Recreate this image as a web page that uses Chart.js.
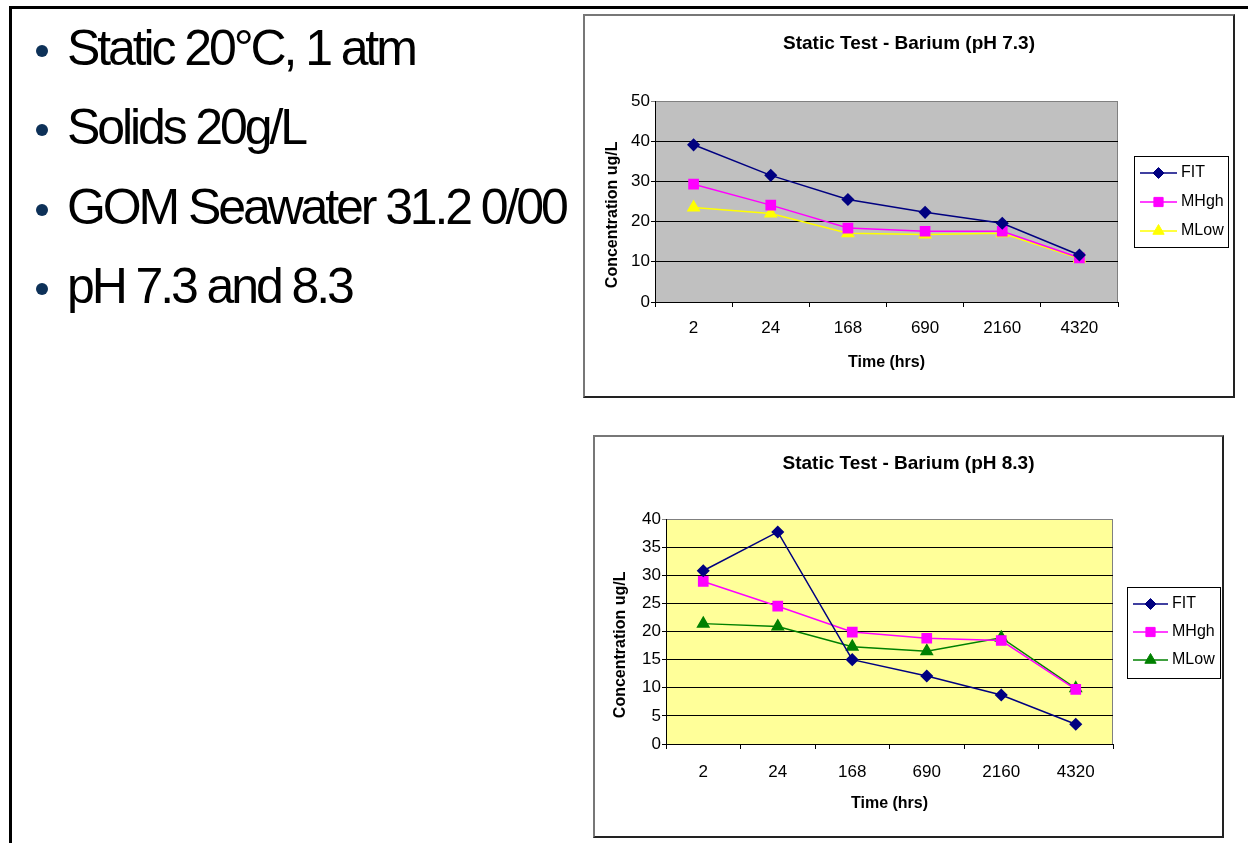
<!DOCTYPE html>
<html>
<head>
<meta charset="utf-8">
<title>Static Test - Barium</title>
<script src="https://cdn.jsdelivr.net/npm/chart.js@4.4.0/dist/chart.umd.min.js"></script>
<style>
  html, body { margin: 0; padding: 0; background: #fff; }
  body { width: 1248px; height: 843px; position: relative; overflow: hidden; font-family: "Liberation Sans", Arial, sans-serif; }
  #frame { position: absolute; left: 9px; top: 6px; width: 1260px; height: 860px; border-top: 3px solid #000; border-left: 3px solid #000; }
  .bullet { position: absolute; left: 67px; font-size: 50px; line-height: 50px; letter-spacing: -3.1px; color: #000; white-space: nowrap; }
  .bullet .dot { position: absolute; left: -31px; top: 22px; width: 12px; height: 12px; border-radius: 50%; background: #0d3158; }
  .box { position: absolute; border: 2px solid; border-color: #777 #222 #222 #777; }
  .box canvas { display: block; }
  #box1 { left: 583px; top: 14px; }
  #box2 { left: 593px; top: 435px; }
</style>
</head>
<body>
<div id="frame"></div>
<div class="bullet" style="top:23px"><span class="dot"></span>Static 20°C, 1 atm</div>
<div class="bullet" style="top:102px"><span class="dot"></span>Solids 20g/L</div>
<div class="bullet" style="top:182px"><span class="dot"></span>GOM Seawater 31.2 0/00</div>
<div class="bullet" style="top:261px"><span class="dot"></span>pH 7.3 and 8.3</div>

<div class="box" id="box1"><canvas id="chart1" width="648" height="380"></canvas></div>
<div class="box" id="box2"><canvas id="chart2" width="627" height="399"></canvas></div>

<script>
// sampling times (hrs) on the category axis
const hours = ["2", "24", "168", "690", "2160", "4320"];

// pH 7.3 - barium concentration ug/L
const fitPh73 = [39.1, 31.5, 25.5, 22.3, 19.6, 11.7];
const mHighPh73 = [29.3, 24.1, 18.4, 17.6, 17.6, 11.0];
const mLowPh73 = [23.5, 22.0, 17.1, 16.8, 17.1, 10.8];

// pH 8.3 - barium concentration ug/L
const fitPh83 = [30.8, 37.7, 15.0, 12.1, 8.7, 3.5];
const mHighPh83 = [28.9, 24.5, 19.9, 18.8, 18.4, 9.7];
const mLowPh83 = [21.4, 20.9, 17.3, 16.5, 18.9, 9.9];

Chart.defaults.font.family = '"Liberation Sans", Arial, sans-serif';
Chart.defaults.color = "#000";

// grey / yellow plot area like the excel chart
const plotBackground = {
  id: "plotBackground",
  beforeDraw(chart, args, opts) {
    const { ctx, chartArea: a } = chart;
    ctx.save();
    ctx.fillStyle = opts.color;
    ctx.fillRect(a.left, a.top, a.right - a.left, a.bottom - a.top);
    ctx.strokeStyle = "#808080";
    ctx.lineWidth = 1;
    ctx.beginPath();
    ctx.moveTo(a.left, a.top + 0.5);
    ctx.lineTo(a.right - 0.5, a.top + 0.5);
    ctx.lineTo(a.right - 0.5, a.bottom);
    ctx.stroke();
    ctx.restore();
  },
};

// legend with a frame, line + marker per series
const boxLegend = {
  id: "boxLegend",
  afterDraw(chart, args, opts) {
    const ctx = chart.ctx;
    ctx.save();
    ctx.strokeStyle = "#000";
    ctx.lineWidth = 1;
    ctx.strokeRect(opts.left + 0.5, opts.top + 0.5, opts.width, opts.height);
    ctx.font = '16px "Liberation Sans", Arial, sans-serif';
    ctx.textBaseline = "middle";
    chart.data.datasets.forEach((ds, i) => {
      const y = opts.top + opts.firstRow + i * opts.rowGap;
      const x0 = opts.left + 6;
      const x1 = x0 + opts.lineLength;
      ctx.strokeStyle = ds.borderColor;
      ctx.lineWidth = ds.borderWidth;
      ctx.beginPath();
      ctx.moveTo(x0, y);
      ctx.lineTo(x1, y);
      ctx.stroke();
      ctx.fillStyle = ds.pointBackgroundColor;
      ctx.strokeStyle = ds.pointBorderColor;
      ctx.lineWidth = 1;
      Chart.helpers.drawPoint(
        ctx,
        { pointStyle: ds.pointStyle, radius: ds.pointRadius, rotation: 0, borderWidth: 1 },
        (x0 + x1) / 2,
        y
      );
      ctx.fillStyle = "#000";
      ctx.fillText(ds.label, x1 + 4, y);
    });
    ctx.restore();
  },
};

function series(label, data, color, style, radius) {
  return {
    label: label,
    data: data,
    borderColor: color,
    backgroundColor: color,
    pointBackgroundColor: color,
    pointBorderColor: color,
    pointStyle: style,
    pointRadius: radius,
    borderWidth: 1.5,
    tension: 0,
    fill: false,
  };
}

function chartOptions(s) {
  return {
    responsive: false,
    animation: false,
    layout: { padding: 0 },
    plugins: {
      legend: { display: false },
      tooltip: { enabled: false },
      title: {
        display: true,
        text: s.title,
        color: "#000",
        font: { size: 19, weight: "bold" },
        padding: { top: s.titleTop, bottom: s.titleBottom },
      },
      plotBackground: { color: s.background },
      boxLegend: s.legend,
    },
    scales: {
      x: {
        offset: true,
        grid: { offset: true, drawOnChartArea: false, drawTicks: true, tickLength: 5, color: "#000" },
        border: { color: "#000", width: 1 },
        ticks: { color: "#000", font: { size: 17 }, padding: s.xTickPad, maxRotation: 0, autoSkip: false },
        title: {
          display: true,
          text: "Time (hrs)",
          color: "#000",
          font: { size: 16, weight: "bold" },
          padding: { top: 0, bottom: s.xTitleBottom },
        },
        afterFit(scale) {
          scale.height = s.xHeight;
        },
      },
      y: {
        min: 0,
        max: s.yMax,
        ticks: { stepSize: s.yStep, color: "#000", font: { size: 17 }, padding: 1 },
        grid: {
          color: (c) => (c.tick && c.tick.value === s.yMax ? "#808080" : "#000"),
          tickLength: 4,
        },
        border: { color: "#000", width: 1 },
        title: {
          display: true,
          // trailing spaces push the rotated title down like in the excel chart
          text: "Concentration ug/L      ",
          color: "#000",
          font: { size: 16, weight: "bold" },
          padding: { top: s.yTitleTop, bottom: 0 },
        },
        afterFit(scale) {
          scale.width = s.yWidth;
        },
      },
      // empty axis on the right only keeps room for the framed legend
      legendRoom: {
        type: "linear",
        position: "right",
        display: true,
        grid: { display: false },
        border: { display: false },
        ticks: { display: false },
        afterFit(scale) {
          scale.width = s.legendRoom;
        },
      },
    },
  };
}

// Static test pH 7.3
new Chart(document.getElementById("chart1").getContext("2d"), {
  type: "line",
  data: {
    labels: hours,
    datasets: [
      series("FIT", fitPh73, "#000080", "rectRot", 5.5),
      series("MHgh", mHighPh73, "#ff00ff", "rect", 6.5),
      series("MLow", mLowPh73, "#ffff00", "triangle", 6.5),
    ],
  },
  options: chartOptions({
    title: "Static Test - Barium (pH 7.3)",
    background: "#c0c0c0",
    yMax: 50,
    yStep: 10,
    legendRoom: 115,
    titleTop: 16.2,
    titleBottom: 46,
    xHeight: 94,
    xTickPad: 11.5,
    xTitleBottom: 23.4,
    yWidth: 70,
    yTitleTop: 18.4,
    legend: { left: 549, top: 140, width: 94, height: 91, firstRow: 17, rowGap: 29, lineLength: 37 },
  }),
  plugins: [plotBackground, boxLegend],
});

// Static test pH 8.3
new Chart(document.getElementById("chart2").getContext("2d"), {
  type: "line",
  data: {
    labels: hours,
    datasets: [
      series("FIT", fitPh83, "#000080", "rectRot", 5.5),
      series("MHgh", mHighPh83, "#ff00ff", "rect", 6.5),
      series("MLow", mLowPh83, "#008000", "triangle", 6.5),
    ],
  },
  options: chartOptions({
    title: "Static Test - Barium (pH 8.3)",
    background: "#ffff99",
    yMax: 40,
    yStep: 5,
    legendRoom: 109,
    titleTop: 15,
    titleBottom: 44.2,
    xHeight: 92,
    xTickPad: 13.5,
    xTitleBottom: 22.4,
    yWidth: 71,
    yTitleTop: 16.4,
    legend: { left: 532, top: 150, width: 93, height: 91, firstRow: 17, rowGap: 28, lineLength: 35 },
  }),
  plugins: [plotBackground, boxLegend],
});
</script>
</body>
</html>
